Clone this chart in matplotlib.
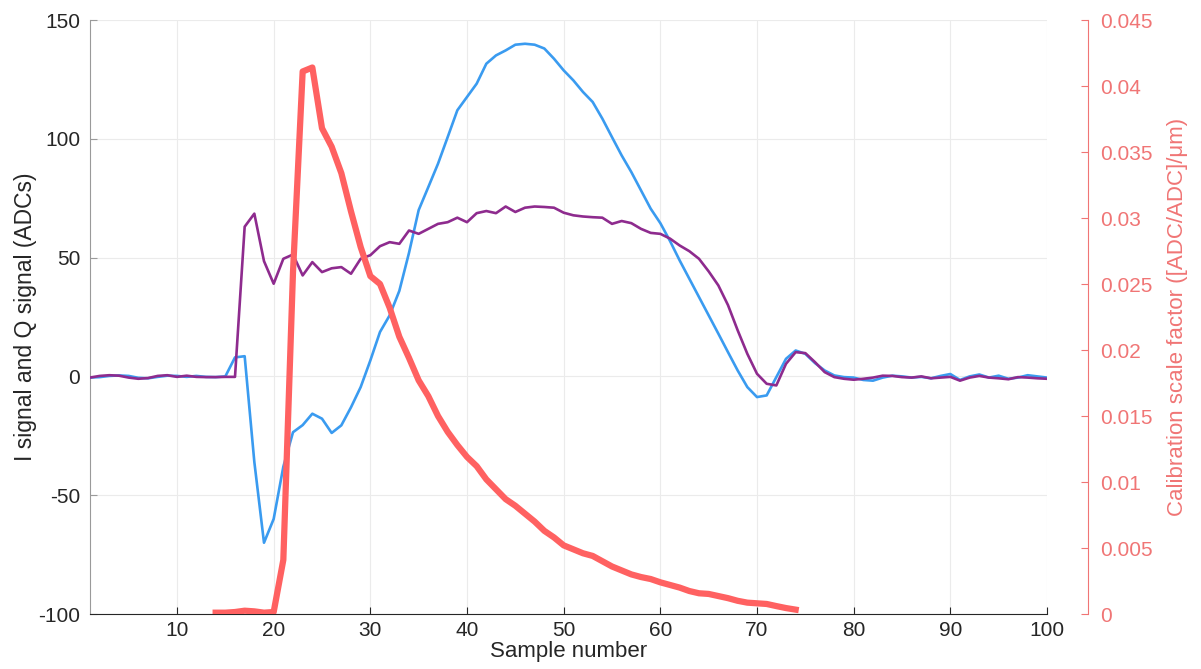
import matplotlib
matplotlib.use("Agg")
import matplotlib.pyplot as plt
import numpy as np

plt.rcParams['font.family'] = ['Liberation Sans', 'DejaVu Sans']
plt.rcParams['axes.unicode_minus'] = False

samples = list(range(1, 101))

i_signal = [-0.5, -0.3, 0.2, 0.4, 0.2, -0.6, -0.8, -0.2, 0.3, 0.2, -0.2, 0.2, -0.2, -0.3, 0.0,
            8.0, 8.5, -36, -70, -60, -38, -23.5, -20.5, -15.7, -17.8, -23.8, -20.6, -13, -4.5, 6.7,
            18.7, 25.7, 36, 52, 70, 79.7, 89.5, 100.7, 112, 117.6, 123.2, 131.6, 135.1, 137.2, 139.6,
            140, 139.6, 138, 133.7, 128.8, 124.6, 119.7, 115.5, 108.5, 100.7, 93, 86, 78.3, 70.6, 64.5,
            57, 48.8, 41.1, 33.4, 25.7, 18, 10.2, 2.5, -4.5, -8.7, -8, -0.3, 7.4, 10.9, 9.5,
            5.6, 2.5, 0.4, -0.3,
            -0.5, -1.5, -1.8, -0.5, 0.3, 0.0, -0.5, -0.2, -0.8, 0.2, 1.0, -1.5, 0.0, 0.8, -0.5,
            0.3, -1.0, -0.5, 0.5, 0.0, -0.5]

q_signal = [-0.5, 0.2, 0.5, 0.3, -0.5, -1.0, -0.7, 0.2, 0.5, -0.2, 0.3, -0.2, -0.3, -0.3, -0.2,
            -0.2, 63, 68.5, 48.5, 39, 49.5, 51.3, 42.5, 48.1, 43.9, 45.5, 46, 43.2, 49.5, 51,
            54.8, 56.5, 55.8, 61.4, 60, 62.1, 64.2, 64.9, 66.8, 64.9, 68.7, 69.6, 68.7, 71.5, 69.2,
            71, 71.5, 71.3, 71, 68.9, 67.8, 67.3, 67, 66.8, 64.2, 65.4, 64.5, 62.1, 60.4, 60,
            58, 55.1, 52.7, 49.5, 44.2, 38.3, 30, 19.4, 9.5, 1.1, -3.1, -3.8, 5.3, 10.2, 9.8,
            6, 1.8, -0.3, -1.0,
            -1.4, -1.0, -0.5, 0.3, 0.2, -0.3, -0.5, 0.0, -0.8, -0.5, -0.2, -1.8, -0.5, 0.2, -0.5,
            -0.8, -1.2, -0.3, -0.5, -0.8, -1.0]

cal_samples = list(range(14, 75))
cal_factor = [0.0001, 0.0001, 0.00015, 0.00025, 0.0002, 0.0001, 0.00015, 0.0041, 0.0259, 0.0411,
              0.0414, 0.0368, 0.0354, 0.0334, 0.0305, 0.0278, 0.0256, 0.0250, 0.0232, 0.0210,
              0.0194, 0.0177, 0.0165, 0.0150, 0.0138, 0.0128, 0.0119, 0.0112, 0.0102, 0.00945,
              0.0087, 0.0082, 0.0076, 0.0070, 0.0063, 0.0058, 0.0052, 0.0049, 0.0046, 0.0044,
              0.0040, 0.0036, 0.0033, 0.0030, 0.0028, 0.00265, 0.0024, 0.0022, 0.0020, 0.00174,
              0.00157, 0.00152, 0.00136, 0.0012, 0.0010, 0.00086, 0.00081, 0.00076, 0.0006, 0.00045,
              0.00033]

x_ticks = [10, 20, 30, 40, 50, 60, 70, 80, 90, 100]
y_ticks = [-100, -50, 0, 50, 100, 150]
y2_ticks = [0, 0.005, 0.01, 0.015, 0.02, 0.025, 0.03, 0.035, 0.04, 0.045]
y2_labels = ['0', '0.005', '0.01', '0.015', '0.02', '0.025', '0.03', '0.035', '0.04', '0.045']

blue = '#3A9BF0'
purple = '#8E2B8E'
red = '#FF6161'
red_axis = '#F07575'
text_col = '#262626'

fig = plt.figure(figsize=(12.01, 6.69), dpi=100)
ax = fig.add_axes([90/1201, 1 - 614/669, (1047-90)/1201, (614-20)/669])

ax.plot(samples, i_signal, color=blue, lw=1.9, zorder=3)
ax.plot(samples, q_signal, color=purple, lw=1.9, zorder=4)

ax.set_xlim(1, 100)
ax.set_ylim(-100, 150)
ax.set_xticks(x_ticks)
ax.set_yticks(y_ticks)
ax.grid(True, color='#EBEBEB', lw=0.8)
ax.set_axisbelow(True)
for s in ['top', 'right']:
    ax.spines[s].set_visible(False)
ax.spines['left'].set_color('#9A9A9A')
ax.spines['bottom'].set_color('#262626')
ax.tick_params(direction='in', length=5, labelsize=15, colors=text_col, pad=5)
ax.tick_params(axis='y', colors='#9A9A9A', labelcolor=text_col, pad=7)
ax.set_xlabel('Sample number', fontsize=16, color=text_col, labelpad=1)
ax.set_ylabel('I signal and Q signal (ADCs)', fontsize=16.5, color=text_col, labelpad=1)

ax2 = ax.twinx()
ax2.plot(cal_samples, cal_factor, color=red, lw=4.5, solid_joinstyle='round', zorder=5)
ax2.set_ylim(0, 0.045)
ax2.set_xlim(1, 100)
for s in ['top', 'left', 'bottom']:
    ax2.spines[s].set_visible(False)
ax2.spines['right'].set_position(('axes', (1088-90)/(1047-90)))
ax2.spines['right'].set_color(red_axis)
ax2.set_yticks(y2_ticks)
ax2.set_yticklabels(y2_labels)
ax2.tick_params(axis='y', direction='in', length=5, labelsize=15, colors=red_axis, pad=9)
ax2.set_ylabel('Calibration scale factor ([ADC/ADC]/μm)', fontsize=16, color=red_axis, labelpad=10)

fig.savefig('out.png', dpi=100)
